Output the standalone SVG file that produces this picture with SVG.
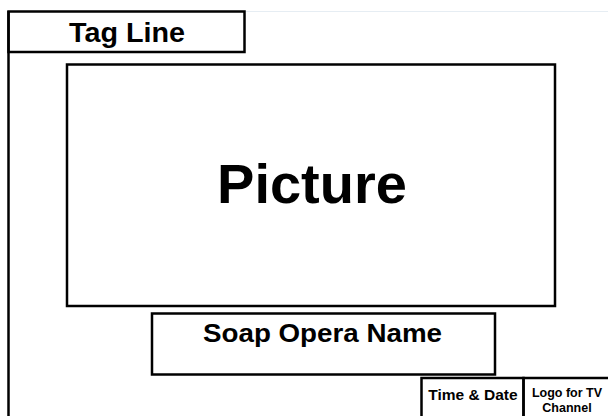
<svg xmlns="http://www.w3.org/2000/svg" width="608" height="416" viewBox="0 0 608 416">
<style>
.box{fill:none;stroke:#000;stroke-width:2.5}
.t{font-family:"Liberation Sans",Arial,sans-serif;font-weight:bold;fill:#000;text-anchor:middle}
</style>
<rect width="608" height="416" fill="#fff"/>
<g id="frame">
<line x1="245" y1="11.5" x2="608" y2="11.5" stroke="#e6edf3" stroke-width="1"/>
<line x1="8.5" y1="11" x2="8.5" y2="416" stroke="#000" stroke-width="2.5"/>
</g>
<g id="tagline">
<rect class="box" x="8.5" y="11.5" width="236" height="40.5"/>
<text class="t" x="127" y="42" font-size="27" textLength="116" lengthAdjust="spacingAndGlyphs">Tag Line</text>
</g>
<g id="picture">
<rect class="box" x="67" y="64.5" width="488" height="241.5"/>
<text class="t" x="312" y="203" font-size="56">Picture</text>
</g>
<g id="soap">
<rect class="box" x="152" y="313.5" width="343" height="61"/>
<text class="t" x="322.5" y="342" font-size="26" textLength="239" lengthAdjust="spacingAndGlyphs">Soap Opera Name</text>
</g>
<g id="timedate">
<rect class="box" x="421.5" y="378" width="102" height="40"/>
<text class="t" x="473" y="400" font-size="15.5">Time &amp; Date</text>
</g>
<g id="logo">
<rect class="box" x="523.5" y="378" width="86" height="40"/>
<text class="t" x="567" y="397" font-size="12.5">Logo for TV</text>
<text class="t" x="567" y="412" font-size="12.5">Channel</text>
</g>
</svg>
